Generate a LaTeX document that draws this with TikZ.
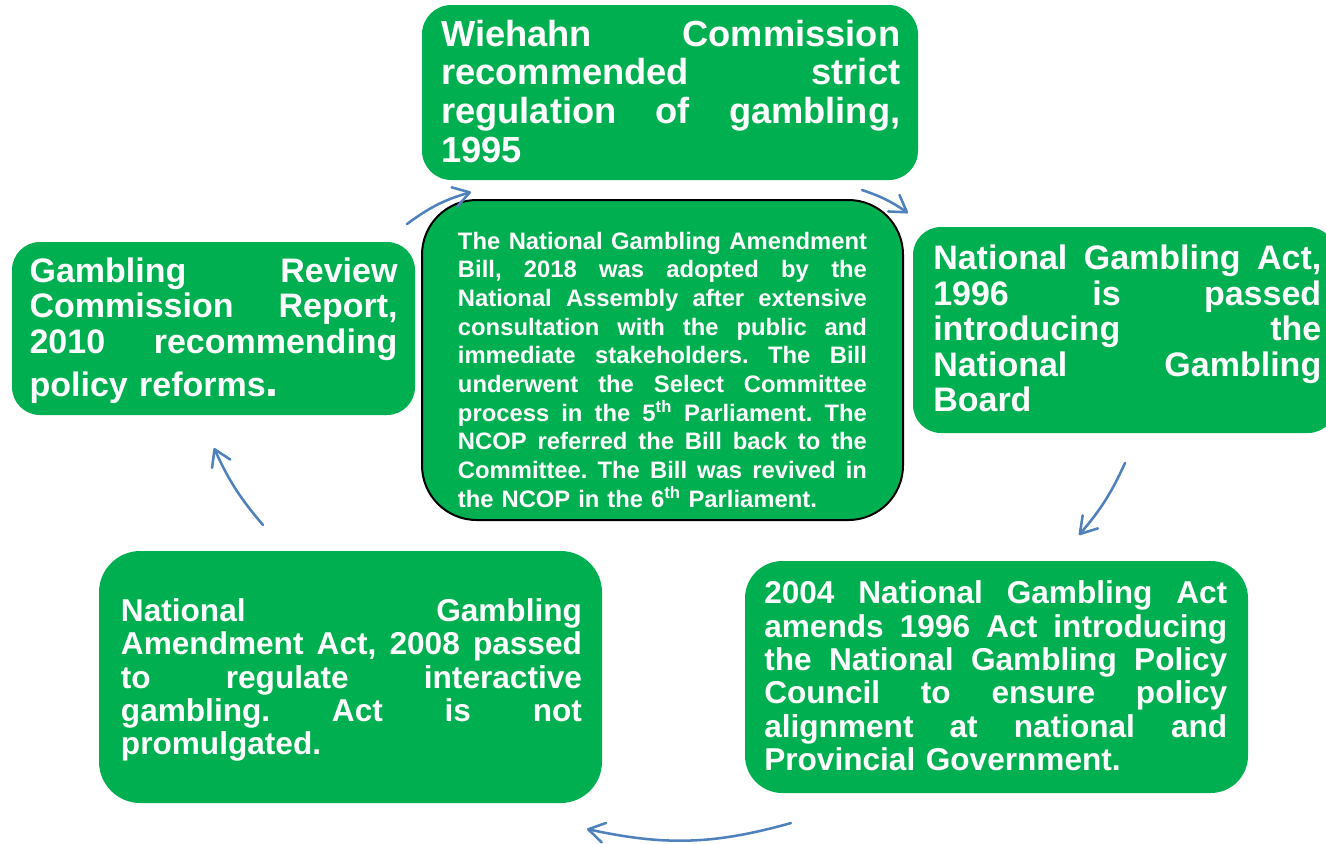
\documentclass[tikz,border=0pt]{standalone}
\usepackage{fontspec}
\setmainfont{Liberation Sans}
\usetikzlibrary{arrows.meta,fit}
\definecolor{boxgreen}{HTML}{00B050}
\definecolor{arrowblue}{HTML}{4F81BD}
\frenchspacing
% width of the justified lines in the current text block
\newlength{\jwidth}
% one fully justified line of a text block
\newcommand{\jline}[1]{\leavevmode\hbox to \jwidth{\spaceskip=0.278em plus 1fil\relax\xspaceskip=\spaceskip #1}}
\tikzset{
  stagebox/.style={fill=boxgreen, draw=none, inner sep=0pt, rounded corners=#1},
  stagetext/.style 2 args={anchor=north west, inner sep=0pt, text=white,
    align=left, text width=#1, font=\bfseries#2,
    execute at begin node={\setlength{\jwidth}{#1}}},
  cyclearrow/.style={draw=arrowblue, line width=1.9pt, line cap=round,
    -{Straight Barb[length=12pt,width=15pt,line cap=round,line join=round]}}
}
\begin{document}
\begin{tikzpicture}[x=0.75pt, y=-0.75pt]
\useasboundingbox (0,0) rectangle (1326,843);
\fill[white] (0,0) rectangle (1326,843);

% boxes of the cycle
\begin{scope}
  \clip (0,0) rectangle (1326,843);
  \node[stagebox=21pt, fit={(913,227) (1336,433)}] (act96) {};
\end{scope}
\node[stagebox=22pt, fit={(422,5) (918,180)}] (wiehahn) {};
\node[stagebox=21pt, fit={(12,242) (415,415)}] (review) {};
\node[stagebox=31pt, fit={(99,551) (602,803)}] (amend08) {};
\node[stagebox=28pt, fit={(745,561) (1248,793)}] (act04) {};
\node[stagebox=41pt, draw=black, line width=1.5pt, fit={(422,200) (903,520)}] (bill) {};

% texts
\node[stagetext={344.25pt}{\fontsize{27.2pt}{29pt}\selectfont}] (wiehahn-text) at (441,19.7)
  {\jline{Wiehahn Commission}\\ \jline{recommended strict}\\ \jline{regulation of gambling,}\\ 1995};

\node[stagetext={291pt}{\fontsize{25.5pt}{26.7pt}\selectfont}] (act96-text) at (933,244.6)
  {\jline{National Gambling Act,}\\ \jline{1996 is passed}\\ \jline{introducing the}\\ \jline{National Gambling}\\ Board};

\node[stagetext={276pt}{\fontsize{25.5pt}{26.6pt}\selectfont}] (review-text) at (29.3,257.4)
  {\jline{Gambling Review}\\ \jline{Commission Report,}\\ \jline{2010 recommending}\\[5.6pt] policy reforms{\fontsize{35pt}{35pt}\selectfont .}};

\node[stagetext={345.75pt}{\fontsize{23.7pt}{25pt}\selectfont}] (amend08-text) at (120.7,598.2)
  {\jline{National Gambling}\\ \jline{Amendment Act, 2008 passed}\\ \jline{to regulate interactive}\\ \jline{gambling. Act is not}\\ promulgated.};

\node[stagetext={347.25pt}{\fontsize{23.7pt}{25pt}\selectfont}] (act04-text) at (764,580.8)
  {\jline{2004 National Gambling Act}\\ \jline{amends 1996 Act introducing}\\ \jline{the National Gambling Policy}\\ \jline{Council to ensure policy}\\ \jline{alignment at national and}\\ Provincial Government.};

\node[stagetext={306.75pt}{\fontsize{17.85pt}{21.5pt}\selectfont}] (bill-text) at (457.7,231.8)
  {\jline{The National Gambling Amendment}\\
   \jline{Bill, 2018 was adopted by the}\\
   \jline{National Assembly after extensive}\\
   \jline{consultation with the public and}\\
   \jline{immediate stakeholders. The Bill}\\
   \jline{underwent the Select Committee}\\
   \jline{process in the 5\textsuperscript{th} Parliament. The}\\
   \jline{NCOP referred the Bill back to the}\\
   \jline{Committee. The Bill was revived in}\\
   the NCOP in the 6\textsuperscript{th} Parliament.};

% arrow ends
\coordinate (review-out) at (407,224);
\coordinate (wiehahn-in) at (471,192);
\coordinate (wiehahn-out) at (862,190);
\coordinate (act96-in) at (908,213);
\coordinate (act96-out) at (1125,463);
\coordinate (act04-in) at (1079,535);
\coordinate (act04-out) at (791,823);
\coordinate (amend08-in) at (587,829);
\coordinate (amend08-out) at (263,525);
\coordinate (review-in) at (214,448);

% arrows of the cycle
\draw[cyclearrow] (review-out) to[bend left=10] (wiehahn-in);
\draw[cyclearrow] (wiehahn-out) to[bend left=8] (act96-in);
\draw[cyclearrow] (act96-out) to[bend left=8] (act04-in);
\draw[cyclearrow] (act04-out) to[bend left=14] (amend08-in);
\draw[cyclearrow] (amend08-out) to[bend left=8] (review-in);
\end{tikzpicture}
\end{document}
